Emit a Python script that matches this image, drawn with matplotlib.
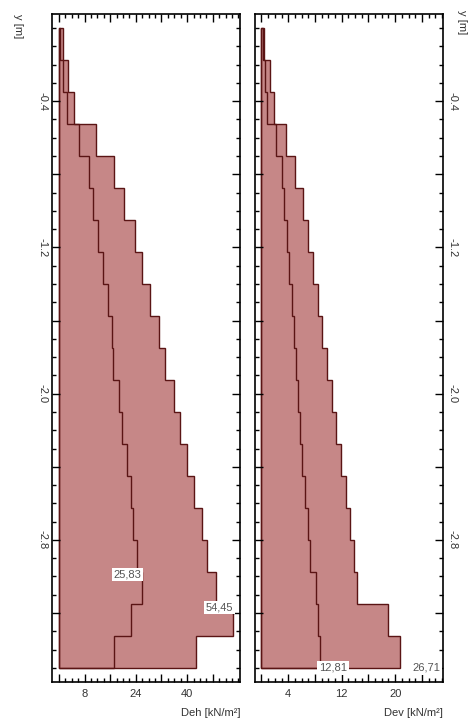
import matplotlib
matplotlib.use("Agg")
import matplotlib.pyplot as plt
import numpy as np

plt.rcParams['font.family'] = ['Liberation Sans', 'DejaVu Sans']

# layer boundaries (depth, m)
depth_edges = [0.0, -0.175, -0.35, -0.525, -0.7, -0.875, -1.05, -1.225, -1.4, -1.575,
               -1.75, -1.925, -2.1, -2.275, -2.45, -2.625, -2.8, -2.975, -3.15, -3.325, -3.5]

# Deh [kN/m2] per layer
deh_inner = [0.5, 1.2, 2.4, 6.4, 9.5, 10.6, 12.3, 13.7, 15.3, 16.5,
             17.0, 18.6, 19.7, 21.1, 22.5, 23.1, 24.5, 25.83, 22.6, 17.2]
deh_outer = [1.2, 2.9, 4.8, 11.6, 17.2, 20.2, 23.8, 25.9, 28.5, 31.1,
             33.2, 35.8, 37.9, 40.0, 42.3, 44.7, 46.1, 48.9, 54.45, 42.9]

# Dev [kN/m2] per layer
dev_inner = [0.2, 0.5, 0.9, 2.1, 3.1, 3.4, 3.8, 4.1, 4.5, 4.8,
             5.1, 5.4, 5.8, 6.1, 6.5, 6.9, 7.3, 8.1, 8.4, 8.7]
dev_outer = [0.35, 1.2, 1.8, 3.6, 5.0, 6.2, 7.0, 7.7, 8.4, 9.1,
             9.8, 10.5, 11.2, 11.9, 12.6, 13.2, 13.8, 14.3, 19.0, 20.7]

# value labels: (text, x value, depth)
deh_labels = [("25,83", 25.83, -2.99), ("54,45", 54.45, -3.17)]
dev_labels = [("12,81", 12.81, -3.5), ("26,71", 26.71, -3.5)]

y_major = [-0.4, -0.8, -1.2, -1.6, -2.0, -2.4, -2.8, -3.2]
y_major_labels = ["-0.4", "", "-1.2", "", "-2.0", "", "-2.8", ""]

deh_xticks = [0, 8, 16, 24, 32, 40, 48]
deh_xlabels = ["", "8", "", "24", "", "40", ""]
dev_xticks = [0, 4, 8, 12, 16, 20, 24]
dev_xlabels = ["", "4", "", "12", "", "20", ""]

FILL = "#c68787"
EDGE = "#5a1414"
TXT = "#333333"

W, H = 469, 724
fig = plt.figure(figsize=(W / 100, H / 100), dpi=100)


def step_poly(vals, edges):
    xs, ys = [0.0], [edges[0]]
    for i, v in enumerate(vals):
        xs += [v, v]
        ys += [edges[i], edges[i + 1]]
    xs.append(0.0)
    ys.append(edges[-1])
    return xs, ys


def make_axes(px_left, px_right):
    return fig.add_axes([px_left / W, 1 - 682 / H, (px_right - px_left) / W, (682 - 13.5) / H])


def style(ax, xticks, xlabels, minor_x, side):
    ax.set_ylim(-3.577, 0.079)
    ax.set_yticks(y_major)
    ax.set_yticks(np.arange(-3.5, 0.01, 0.1), minor=True)
    ax.set_xticks(xticks)
    ax.set_xticklabels(xlabels, color=TXT, fontsize=8)
    ax.set_xticks(minor_x, minor=True)
    ax.tick_params(which='both', direction='in', top=True, right=True, width=1)
    ax.tick_params(which='major', length=6)
    ax.tick_params(which='minor', length=3)
    ax.tick_params(axis='x', pad=5)
    if side == 'left':
        ax.set_yticklabels(y_major_labels, rotation=-90, color=TXT, fontsize=8, va='center')
        ax.tick_params(axis='y', labelleft=True, labelright=False, pad=3)
    else:
        ax.yaxis.set_ticks_position('both')
        ax.set_yticklabels(y_major_labels, rotation=-90, color=TXT, fontsize=8, va='center')
        ax.tick_params(axis='y', labelleft=False, labelright=True, pad=3)
    for s in ax.spines.values():
        s.set_linewidth(1.2)


def draw(ax, inner, outer, labels):
    xs, ys = step_poly(outer, depth_edges)
    ax.fill(xs, ys, facecolor=FILL, edgecolor=EDGE, linewidth=1.0)
    xs, ys = step_poly(inner, depth_edges)
    ax.fill(xs, ys, facecolor='none', edgecolor=EDGE, linewidth=1.0)
    for txt, xv, yv in labels:
        ax.text(xv, yv, txt, ha='right', va='center', fontsize=8, color="#555555",
                bbox=dict(boxstyle='square,pad=0.15', facecolor='white', edgecolor='none'))


ax1 = make_axes(51.5, 240)
draw(ax1, deh_inner, deh_outer, deh_labels)
ax1.set_xlim(-2.3, 56.5)
style(ax1, deh_xticks, deh_xlabels, np.arange(0, 57, 2), 'left')

ax2 = make_axes(255, 443.3)
draw(ax2, dev_inner, dev_outer, dev_labels)
ax2.set_xlim(-0.97, 27.2)
style(ax2, dev_xticks, dev_xlabels, np.arange(0, 28, 1), 'right')

fig.text(240 / W, 1 - 713 / H, "Deh [kN/m²]", ha='right', va='center', fontsize=8, color=TXT)
fig.text(443 / W, 1 - 713 / H, "Dev [kN/m²]", ha='right', va='center', fontsize=8, color=TXT)
fig.text(18 / W, 1 - 26 / H, "y [m]", ha='center', va='center', rotation=-90, fontsize=8, color=TXT)
fig.text(462 / W, 1 - 22 / H, "y [m]", ha='center', va='center', rotation=-90, fontsize=8, color=TXT)

fig.savefig("out.png", dpi=100)
